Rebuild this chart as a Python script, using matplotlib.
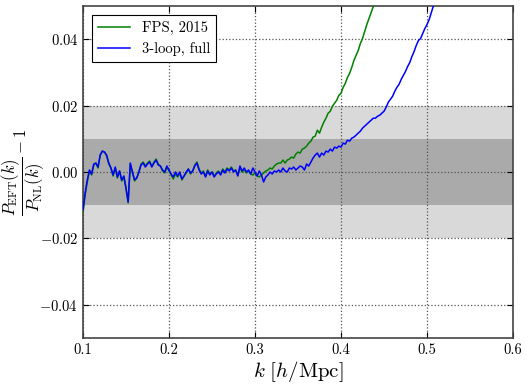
import matplotlib
matplotlib.use("Agg")
import matplotlib.pyplot as plt

plt.rcParams['font.family'] = 'serif'
plt.rcParams['font.serif'] = ['cmr10', 'DejaVu Serif']
plt.rcParams['mathtext.fontset'] = 'cm'
plt.rcParams['axes.formatter.use_mathtext'] = True
plt.rcParams['axes.unicode_minus'] = True

k_blue = [0.1000, 0.1025, 0.1050, 0.1075, 0.1100, 0.1125, 0.1150, 0.1175, 0.1200, 0.1225,
          0.1250, 0.1275, 0.1300, 0.1325, 0.1350, 0.1375, 0.1400, 0.1425, 0.1450, 0.1475,
          0.1500, 0.1525, 0.1550, 0.1575, 0.1600, 0.1625, 0.1650, 0.1675, 0.1700, 0.1725,
          0.1750, 0.1775, 0.1800, 0.1825, 0.1850, 0.1875, 0.1900, 0.1925, 0.1950, 0.1975,
          0.2000, 0.2025, 0.2050, 0.2075, 0.2100, 0.2125, 0.2150, 0.2175, 0.2200, 0.2225,
          0.2250, 0.2275, 0.2300, 0.2325, 0.2350, 0.2375, 0.2400, 0.2425, 0.2450, 0.2475,
          0.2500, 0.2525, 0.2550, 0.2575, 0.2600, 0.2625, 0.2650, 0.2675, 0.2700, 0.2725,
          0.2750, 0.2775, 0.2800, 0.2825, 0.2850, 0.2875, 0.2900, 0.2925, 0.2950, 0.2975,
          0.3000, 0.3025, 0.3050, 0.3075, 0.3100, 0.3125, 0.3150, 0.3175, 0.3200, 0.3225,
          0.3250, 0.3275, 0.3300, 0.3325, 0.3350, 0.3375, 0.3400, 0.3425, 0.3450, 0.3475,
          0.3500, 0.3525, 0.3550, 0.3575, 0.3600, 0.3625, 0.3650, 0.3675, 0.3700, 0.3725,
          0.3750, 0.3775, 0.3800, 0.3825, 0.3850, 0.3875, 0.3900, 0.3925, 0.3950, 0.3975,
          0.4000, 0.4025, 0.4050, 0.4075, 0.4100, 0.4125, 0.4150, 0.4175, 0.4200, 0.4225,
          0.4250, 0.4275, 0.4300, 0.4325, 0.4350, 0.4375, 0.4400, 0.4425, 0.4450, 0.4475,
          0.4500, 0.4525, 0.4550, 0.4575, 0.4600, 0.4625, 0.4650, 0.4675, 0.4700, 0.4725,
          0.4750, 0.4775, 0.4800, 0.4825, 0.4850, 0.4875, 0.4900, 0.4925, 0.4950, 0.4975,
          0.5000, 0.5025, 0.5050, 0.5075, 0.5100]

r_blue = [-0.0114, -0.0063, -0.0024, 0.0006, -0.0006, 0.0024, 0.0027, 0.0015, 0.0051, 0.0063,
          0.0060, 0.0051, 0.0027, 0.0012, -0.0009, 0.0015, -0.0015, 0.0003, -0.0024, -0.0012,
          -0.0048, -0.0090, 0.0027, 0.0000, -0.0024, -0.0018, 0.0000, 0.0021, 0.0027, 0.0015,
          0.0024, 0.0030, 0.0015, 0.0027, 0.0036, 0.0021, 0.0018, 0.0006, 0.0000, 0.0018,
          0.0006, -0.0006, -0.0015, 0.0000, -0.0012, 0.0000, -0.0021, -0.0012, 0.0000, 0.0009,
          -0.0003, 0.0003, 0.0018, 0.0027, 0.0006, -0.0006, 0.0000, -0.0015, 0.0003, -0.0009,
          0.0000, -0.0015, -0.0006, 0.0000, -0.0009, 0.0006, -0.0003, 0.0009, 0.0003, 0.0012,
          0.0000, 0.0006, -0.0012, 0.0018, 0.0003, 0.0012, 0.0000, 0.0006, -0.0006, 0.0012,
          0.0000, -0.0012, 0.0003, -0.0009, -0.0030, -0.0015, -0.0009, 0.0000, -0.0006, 0.0003,
          0.0000, 0.0006, 0.0000, 0.0012, 0.0003, 0.0000, 0.0012, 0.0009, 0.0015, 0.0006,
          0.0012, 0.0018, 0.0015, 0.0006, 0.0024, 0.0018, 0.0030, 0.0042, 0.0051, 0.0057,
          0.0045, 0.0057, 0.0051, 0.0063, 0.0060, 0.0069, 0.0063, 0.0075, 0.0072, 0.0078,
          0.0075, 0.0087, 0.0084, 0.0096, 0.0093, 0.0102, 0.0105, 0.0111, 0.0117, 0.0123,
          0.0132, 0.0138, 0.0144, 0.0150, 0.0156, 0.0162, 0.0162, 0.0168, 0.0171, 0.0177,
          0.0183, 0.0195, 0.0210, 0.0219, 0.0228, 0.0243, 0.0255, 0.0264, 0.0279, 0.0291,
          0.0303, 0.0318, 0.0330, 0.0348, 0.0363, 0.0381, 0.0396, 0.0402, 0.0417, 0.0432,
          0.0444, 0.0459, 0.0480, 0.0501, 0.0520]

k_green = [0.1000, 0.1025, 0.1050, 0.1075, 0.1100, 0.1125, 0.1150, 0.1175, 0.1200, 0.1225,
           0.1250, 0.1275, 0.1300, 0.1325, 0.1350, 0.1375, 0.1400, 0.1425, 0.1450, 0.1475,
           0.1500, 0.1525, 0.1550, 0.1575, 0.1600, 0.1625, 0.1650, 0.1675, 0.1700, 0.1725,
           0.1750, 0.1775, 0.1800, 0.1825, 0.1850, 0.1875, 0.1900, 0.1925, 0.1950, 0.1975,
           0.2000, 0.2025, 0.2050, 0.2075, 0.2100, 0.2125, 0.2150, 0.2175, 0.2200, 0.2225,
           0.2250, 0.2275, 0.2300, 0.2325, 0.2350, 0.2375, 0.2400, 0.2425, 0.2450, 0.2475,
           0.2500, 0.2525, 0.2550, 0.2575, 0.2600, 0.2625, 0.2650, 0.2675, 0.2700, 0.2725,
           0.2750, 0.2775, 0.2800, 0.2825, 0.2850, 0.2875, 0.2900, 0.2925, 0.2950, 0.2975,
           0.3000, 0.3025, 0.3050, 0.3075, 0.3100, 0.3125, 0.3150, 0.3175, 0.3200, 0.3225,
           0.3250, 0.3275, 0.3300, 0.3325, 0.3350, 0.3375, 0.3400, 0.3425, 0.3450, 0.3475,
           0.3500, 0.3525, 0.3550, 0.3575, 0.3600, 0.3625, 0.3650, 0.3675, 0.3700, 0.3725,
           0.3750, 0.3775, 0.3800, 0.3825, 0.3850, 0.3875, 0.3900, 0.3925, 0.3950, 0.3975,
           0.4000, 0.4025, 0.4050, 0.4075, 0.4100, 0.4125, 0.4150, 0.4175, 0.4200, 0.4225,
           0.4250, 0.4275, 0.4300, 0.4325, 0.4350, 0.4375, 0.4400]

r_green = [-0.0122, -0.0069, -0.0030, 0.0003, -0.0009, 0.0021, 0.0027, 0.0012, 0.0051, 0.0063,
           0.0060, 0.0048, 0.0024, 0.0012, -0.0012, 0.0012, -0.0018, 0.0003, -0.0027, -0.0015,
           -0.0051, -0.0093, 0.0024, -0.0003, -0.0027, -0.0018, 0.0000, 0.0024, 0.0030, 0.0018,
           0.0027, 0.0033, 0.0018, 0.0030, 0.0039, 0.0024, 0.0018, 0.0003, -0.0003, 0.0015,
           0.0003, -0.0009, -0.0021, -0.0006, -0.0015, -0.0003, -0.0024, -0.0012, -0.0003, 0.0009,
           -0.0006, 0.0003, 0.0021, 0.0030, 0.0009, -0.0003, 0.0003, -0.0012, 0.0006, -0.0006,
           0.0000, -0.0012, -0.0003, 0.0003, -0.0006, 0.0009, 0.0000, 0.0012, 0.0006, 0.0015,
           0.0003, 0.0006, -0.0009, 0.0012, 0.0000, 0.0006, -0.0003, 0.0003, -0.0006, -0.0009,
           -0.0003, -0.0012, -0.0015, -0.0009, -0.0003, 0.0003, 0.0006, 0.0012, 0.0009, 0.0018,
           0.0024, 0.0027, 0.0027, 0.0036, 0.0027, 0.0036, 0.0039, 0.0045, 0.0042, 0.0054,
           0.0060, 0.0057, 0.0069, 0.0072, 0.0078, 0.0087, 0.0093, 0.0105, 0.0108, 0.0126,
           0.0117, 0.0135, 0.0150, 0.0162, 0.0177, 0.0183, 0.0198, 0.0207, 0.0216, 0.0231,
           0.0237, 0.0255, 0.0267, 0.0285, 0.0297, 0.0315, 0.0336, 0.0351, 0.0366, 0.0387,
           0.0402, 0.0423, 0.0444, 0.0462, 0.0480, 0.0498, 0.0516]

inner_band = 0.01
outer_band = 0.02
x_ticks = [0.1, 0.2, 0.3, 0.4, 0.5, 0.6]
y_ticks = [-0.04, -0.02, 0.00, 0.02, 0.04]

fig = plt.figure(figsize=(5.29, 3.89), dpi=100)
ax = fig.add_axes([83/529, 51/389, 430/529, 332/389])

ax.axhspan(-outer_band, outer_band, color='#d9d9d9', lw=0, zorder=0)
ax.axhspan(-inner_band, inner_band, color='#aaaaaa', lw=0, zorder=0.5)

ax.plot(k_green, r_green, color='#008000', lw=1.1, label='FPS, 2015', zorder=3)
ax.plot(k_blue, r_blue, color='#0000ff', lw=1.1, label='3-loop, full', zorder=3)

ax.set_xlim(0.1, 0.6)
ax.set_ylim(-0.05, 0.05)
ax.set_xticks(x_ticks)
ax.set_yticks(y_ticks)
ax.set_xticklabels(['%.1f' % t for t in x_ticks])
ax.set_yticklabels(['$%.2f$' % t if t != 0 else '$0.00$' for t in y_ticks])
ax.tick_params(direction='in', top=True, right=True, length=4, labelsize=10.5, width=0.8)
ax.grid(True, linestyle=':', color='#555555', lw=0.9, zorder=2)

for s in ax.spines.values():
    s.set_color('#444444')
    s.set_linewidth(1.2)

ax.set_xlabel(r'$k\ [h/{\rm Mpc}]$', fontsize=15, labelpad=2)
ax.set_ylabel(r'$\dfrac{P_{\rm EFT}(k)}{P_{\rm NL}(k)} - 1$', fontsize=12)
ax.yaxis.set_label_coords(-0.085, 0.5)

leg = ax.legend(loc='upper left', fontsize=10.5, fancybox=False, edgecolor='black',
                framealpha=1, borderpad=0.4, handlelength=2.2, bbox_to_anchor=(0.005, 0.995))
leg.get_frame().set_linewidth(0.8)

fig.savefig('out.png', dpi=100)
